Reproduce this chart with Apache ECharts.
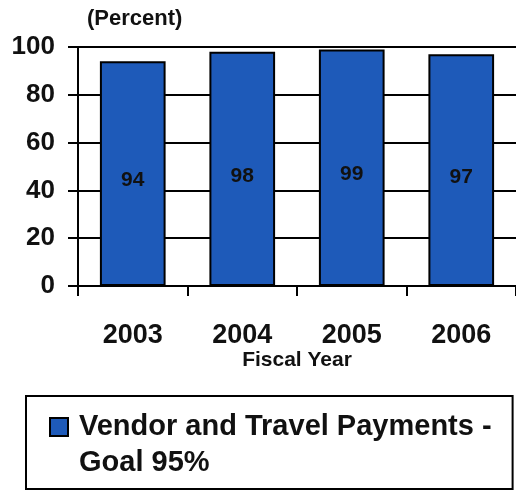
<!DOCTYPE html>
<html>
<head>
<meta charset="utf-8">
<script src="https://cdn.jsdelivr.net/npm/echarts@6/dist/echarts.min.js"></script>
<style>
html,body{margin:0;padding:0;background:#fff;}
#chart{width:516px;height:490px;}
</style>
</head>
<body>
<div id="chart"></div>
<script>
var categories = ['2003', '2004', '2005', '2006'];
var paymentValues = [94, 98, 99, 97];
var seriesName = 'Vendor and Travel Payments -\nGoal 95%';
var yTicks = [0, 20, 40, 60, 80, 100];

var FONT = '"Liberation Sans", Arial, sans-serif';
var chart = echarts.init(document.getElementById('chart'), null, {renderer: 'canvas'});
chart.setOption({
  backgroundColor: '#ffffff',
  animation: false,
  title: {
    text: '(Percent)',
    left: 87, top: 8, padding: 0,
    textStyle: {fontFamily: FONT, fontSize: 22, fontWeight: 'bold', color: '#111'}
  },
  grid: {left: 78, right: -2, top: 47, bottom: 204, containLabel: false},
  legend: {
    left: 26, top: 396,
    orient: 'vertical',
    padding: [13, 21, 8, 23],
    borderColor: '#000', borderWidth: 2,
    icon: 'path://M0,0L18,0L18,18L0,18Z M24,54L24,54',
    itemWidth: 24, itemHeight: 54,
    textStyle: {fontFamily: FONT, fontSize: 29, fontWeight: 'bold', color: '#111', lineHeight: 36},
    data: [seriesName]
  },
  xAxis: {
    type: 'category',
    data: categories,
    name: 'Fiscal Year',
    nameLocation: 'middle',
    nameGap: 62,
    nameTextStyle: {fontFamily: FONT, fontSize: 21, fontWeight: 'bold', color: '#111'},
    axisLine: {lineStyle: {color: '#000', width: 2}},
    axisTick: {show: true, length: 10, lineStyle: {color: '#000', width: 2}},
    axisLabel: {fontFamily: FONT, fontSize: 27, fontWeight: 'bold', color: '#111', margin: 36}
  },
  yAxis: {
    type: 'value',
    min: yTicks[0], max: yTicks[yTicks.length - 1], interval: 20,
    axisLine: {show: true, lineStyle: {color: '#000', width: 2}},
    axisTick: {show: true, length: 10, lineStyle: {color: '#000', width: 2}},
    splitLine: {show: true, lineStyle: {color: '#000', width: 2}},
    axisLabel: {fontFamily: FONT, fontSize: 26, fontWeight: 'bold', color: '#111', margin: 23}
  },
  series: [{
    name: seriesName,
    type: 'bar',
    data: paymentValues,
    barWidth: '60%',
    itemStyle: {color: '#1E5AB9', borderColor: '#000', borderWidth: 2},
    label: {
      show: true, position: 'inside', offset: [0, 7],
      fontFamily: FONT, fontSize: 21, fontWeight: 'bold', color: '#111'
    }
  }]
});
</script>
</body>
</html>
